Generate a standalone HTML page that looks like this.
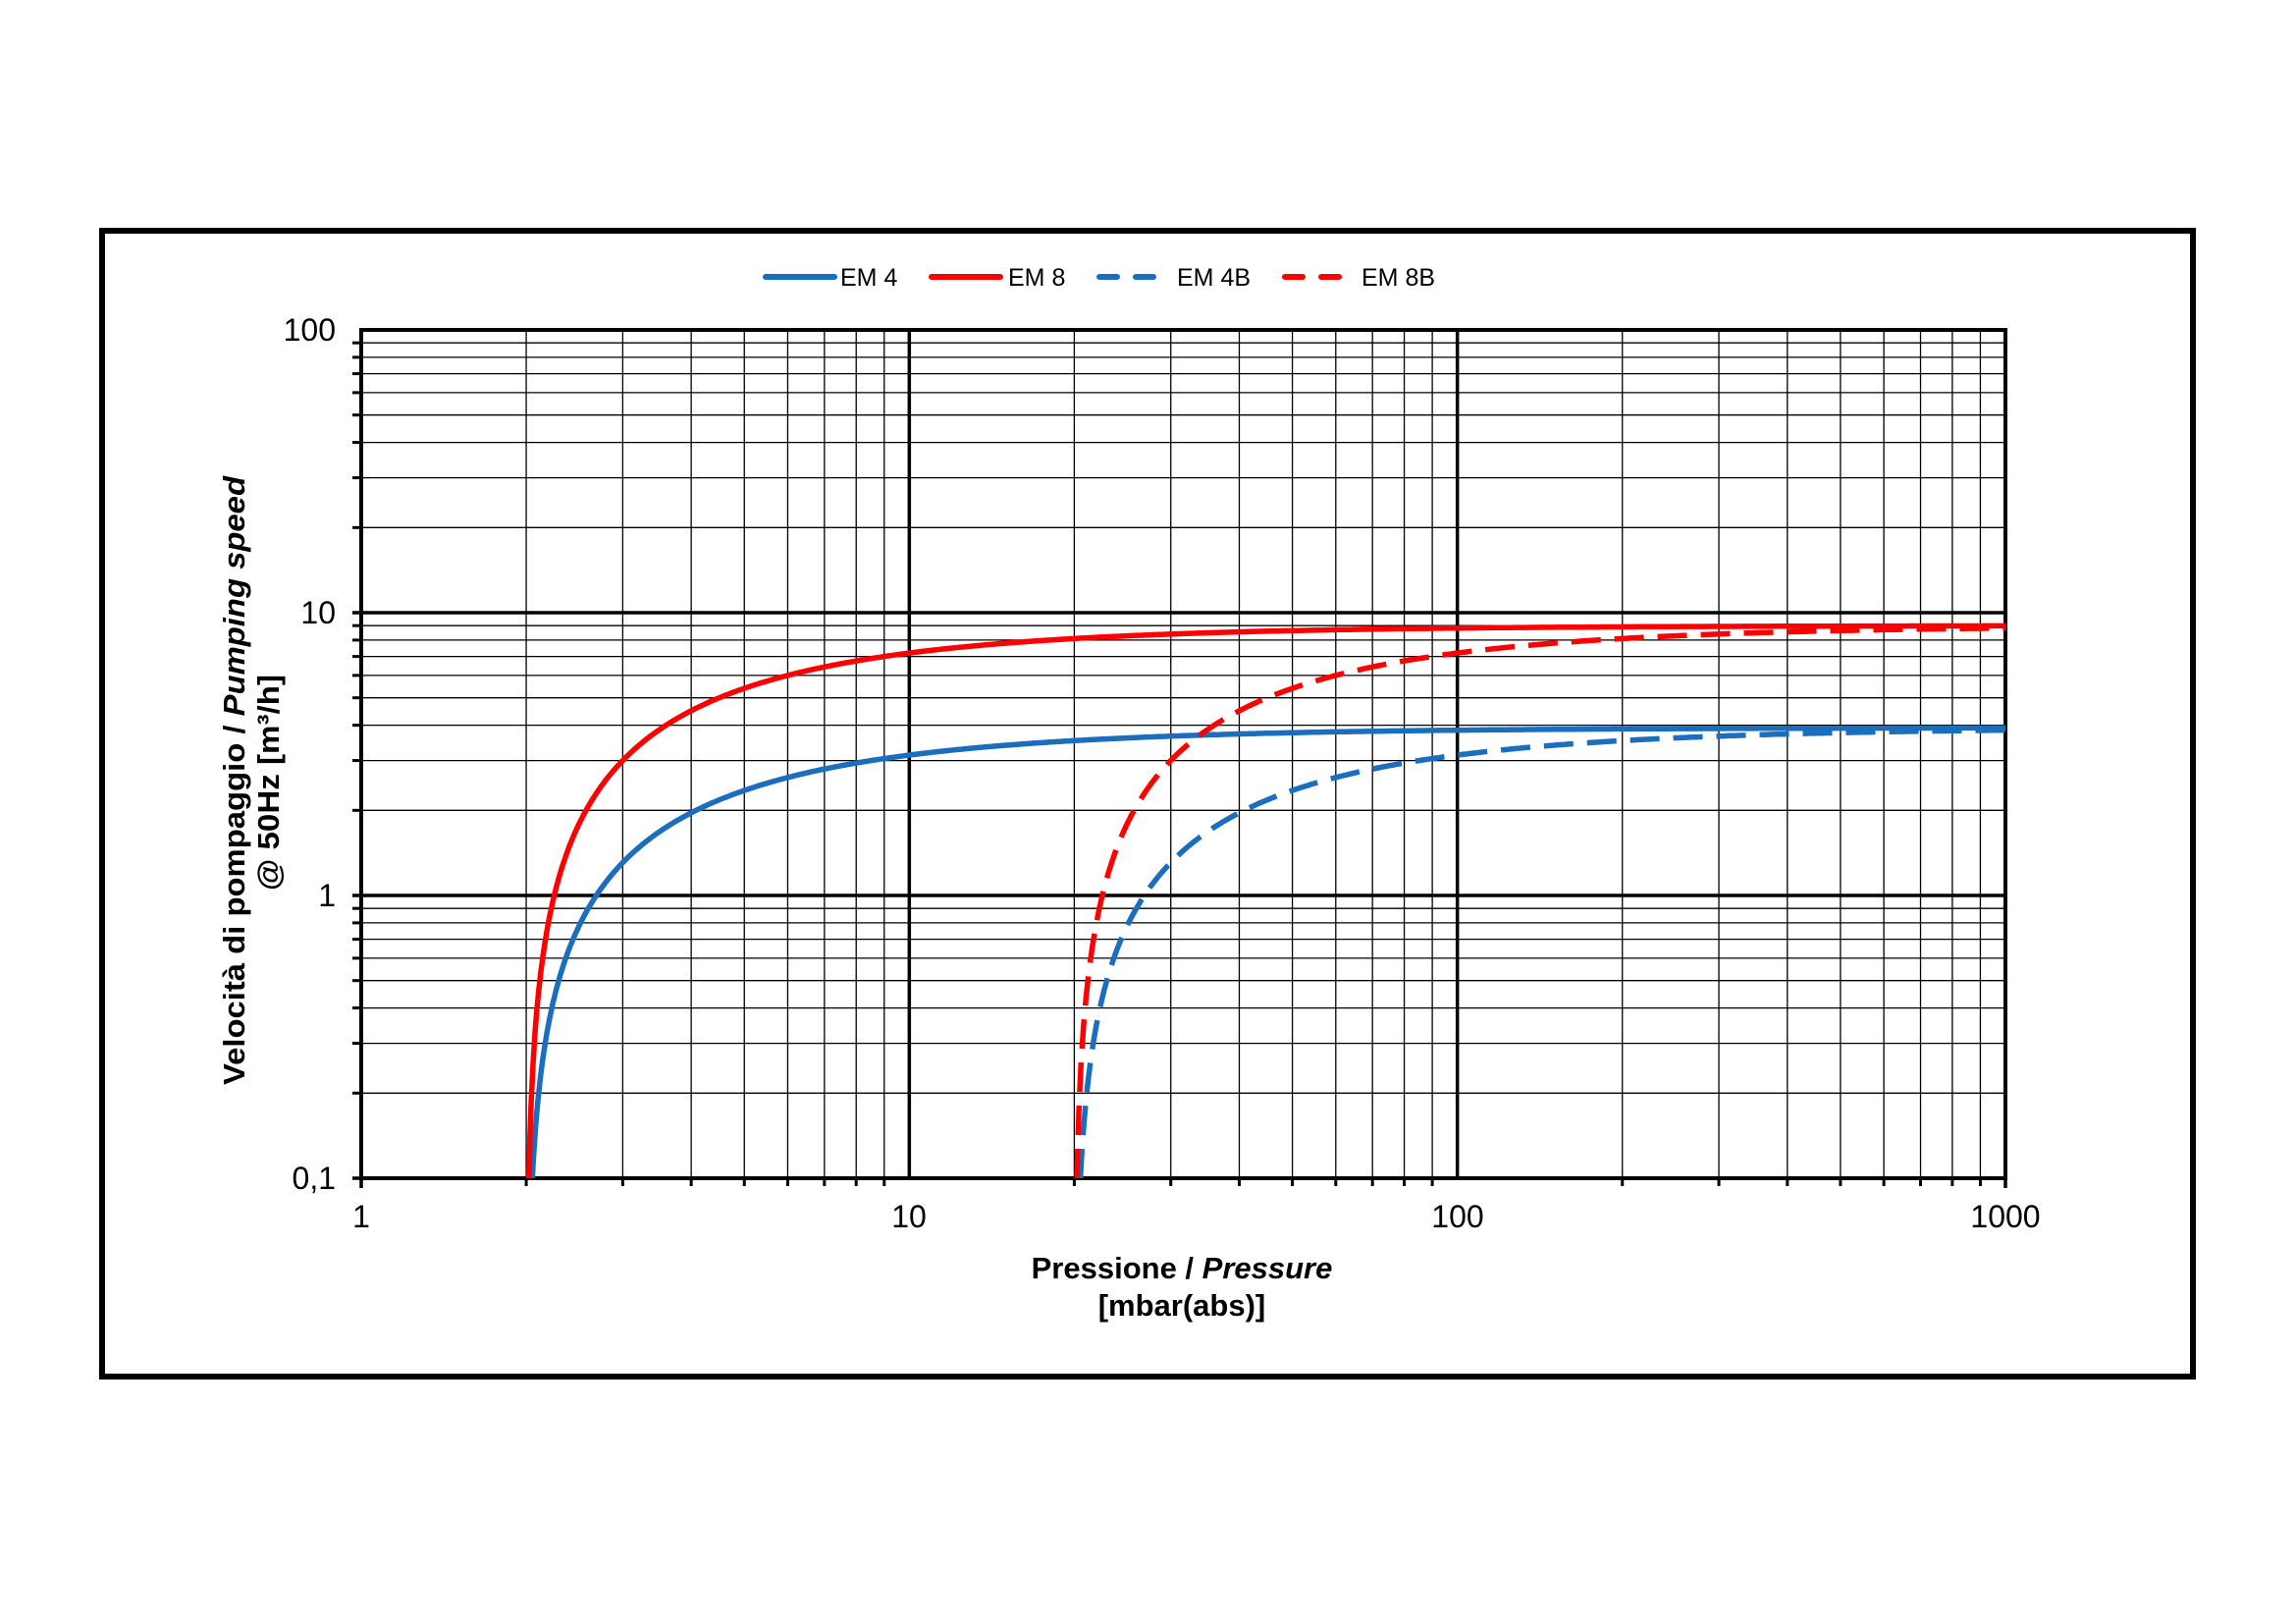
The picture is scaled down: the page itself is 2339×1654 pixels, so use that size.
<!DOCTYPE html>
<html><head><meta charset="utf-8"><style>
html,body{margin:0;padding:0;background:#fff;}
svg{display:block;}
text{font-family:"Liberation Sans",Arial,sans-serif;}
</style></head><body>
<svg id="s" width="2339" height="1654" viewBox="0 0 2339 1654" xmlns="http://www.w3.org/2000/svg">
<rect width="2339" height="1654" fill="#fff"/>
<rect x="104" y="235" width="2130" height="1167" fill="none" stroke="#000" stroke-width="6"/>
<g id="grid"></g>
<g id="curves" fill="none" stroke-width="5.5" stroke-linejoin="round"></g>
<g font-size="32" fill="#000">
<text x="342" y="347" text-anchor="end">100</text>
<text x="342" y="635" text-anchor="end">10</text>
<text x="342" y="923" text-anchor="end">1</text>
<text x="342" y="1211" text-anchor="end">0,1</text>
<text x="368" y="1250" text-anchor="middle">1</text>
<text x="926" y="1250" text-anchor="middle">10</text>
<text x="1485" y="1250" text-anchor="middle">100</text>
<text x="2043" y="1250" text-anchor="middle">1000</text>
</g>
<g font-size="31" font-weight="bold" text-anchor="middle">
<text x="1204" y="1302">Pressione / <tspan font-style="italic">Pressure</tspan></text>
<text x="1204" y="1340">[mbar(abs)]</text>
<text transform="translate(249,795) rotate(-90)" textLength="620" lengthAdjust="spacingAndGlyphs">Velocità di pompaggio / <tspan font-style="italic">Pumping speed</tspan></text>
<text transform="translate(284,797) rotate(-90)" textLength="220" lengthAdjust="spacingAndGlyphs">@ 50Hz [m³/h]</text>
</g>
<g font-size="25" fill="#000">
<line x1="780" y1="282" x2="850" y2="282" stroke="#1a6ebd" stroke-width="6" stroke-linecap="round"/>
<text x="856" y="291">EM 4</text>
<line x1="949" y1="282" x2="1019" y2="282" stroke="#ff0000" stroke-width="6" stroke-linecap="round"/>
<text x="1027" y="291">EM 8</text>
<line x1="1120" y1="282" x2="1188" y2="282" stroke="#1a6ebd" stroke-width="6" stroke-linecap="round" stroke-dasharray="18 19"/>
<text x="1199" y="291">EM 4B</text>
<line x1="1309" y1="282" x2="1370" y2="282" stroke="#ff0000" stroke-width="6" stroke-linecap="round" stroke-dasharray="18 19"/>
<text x="1387" y="291">EM 8B</text>
</g>
</svg>
<script>
(function(){
var L=368,R=2043,T=336,B=1200,D=558.33,DY=288;
function X(p){return L+D*Math.log10(p);}
function Y(s){return T+DY*(2-Math.log10(s));}
var g=document.getElementById('grid'),h='';
for(var d=0;d<3;d++){for(var k=1;k<10;k++){var p=Math.pow(10,d)*k;var x=X(p);
 if(k==1&&d>0){h+='<line x1="'+x+'" y1="'+T+'" x2="'+x+'" y2="'+B+'" stroke="#000" stroke-width="3.5"/>';}
 else if(k>1){h+='<line x1="'+x+'" y1="'+T+'" x2="'+x+'" y2="'+B+'" stroke="#000" stroke-width="1.3"/>';
  h+='<line x1="'+x+'" y1="'+B+'" x2="'+x+'" y2="'+(B+8)+'" stroke="#000" stroke-width="3"/>';}
}}
for(var d=-1;d<2;d++){for(var k=1;k<10;k++){var v=Math.pow(10,d)*k;var y=Y(v);
 if(k==1&&d>-1){h+='<line x1="'+L+'" y1="'+y+'" x2="'+R+'" y2="'+y+'" stroke="#000" stroke-width="3.5"/>';
  h+='<line x1="'+(L-9)+'" y1="'+y+'" x2="'+L+'" y2="'+y+'" stroke="#000" stroke-width="3.5"/>';}
 else if(k>1){h+='<line x1="'+L+'" y1="'+y+'" x2="'+R+'" y2="'+y+'" stroke="#000" stroke-width="1.3"/>';
  h+='<line x1="'+(L-9)+'" y1="'+y+'" x2="'+L+'" y2="'+y+'" stroke="#000" stroke-width="3"/>';}
}}
h+='<line x1="'+(L-9)+'" y1="'+B+'" x2="'+L+'" y2="'+B+'" stroke="#000" stroke-width="3.5"/>';
h+='<line x1="'+L+'" y1="'+B+'" x2="'+L+'" y2="'+(B+10)+'" stroke="#000" stroke-width="3.5"/>';
h+='<line x1="'+R+'" y1="'+B+'" x2="'+R+'" y2="'+(B+10)+'" stroke="#000" stroke-width="3.5"/>';
h+='<rect x="'+L+'" y="'+T+'" width="'+(R-L)+'" height="'+(B-T)+'" fill="none" stroke="#000" stroke-width="4"/>';
g.innerHTML=h;
function curve(smax,p0,col,dash){
 var pstart=p0/(1-0.1/smax),pts=[],n=400;
 for(var i=0;i<=n;i++){var lp=Math.log10(pstart)+(3-Math.log10(pstart))*Math.pow(i/n,1.6);var p=Math.pow(10,lp);
  var s=smax*(1-p0/p); if(s<0.1)s=0.1; pts.push(X(p).toFixed(1)+','+Y(s).toFixed(1));}
 return '<polyline points="'+pts.join(' ')+'" stroke="'+col+'"'+(dash?' stroke-dasharray="30 14"':'')+'/>';
}
document.getElementById('curves').innerHTML=
 curve(3.92,2,'#1a6ebd',false)+curve(9.0,2,'#ff0000',false)+
 curve(3.92,20,'#1a6ebd',true)+curve(9.0,20,'#ff0000',true);
})();
</script>
</body></html>
